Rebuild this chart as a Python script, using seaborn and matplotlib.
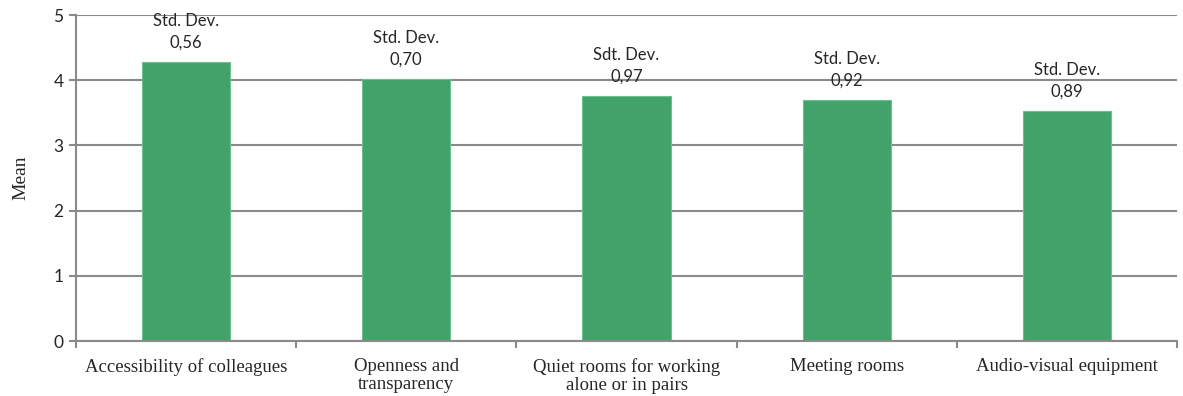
import matplotlib
matplotlib.use("Agg")
import matplotlib.pyplot as plt
import seaborn as sns
import pandas as pd
import numpy as np

categories = ["Accessibility of colleagues", "Openness and\ntransparency",
              "Quiet rooms for working\nalone or in pairs", "Meeting rooms",
              "Audio-visual equipment"]
means = [4.28, 4.02, 3.76, 3.70, 3.53]
sd_prefix = ["Std. Dev.", "Std. Dev.", "Sdt. Dev.", "Std. Dev.", "Std. Dev."]
sd_values = ["0,56", "0,70", "0,97", "0,92", "0,89"]
y_ticks = [0, 1, 2, 3, 4, 5]

sns.set_theme(style="white")
plt.rcParams['font.family'] = ['Lato', 'DejaVu Sans']

df = pd.DataFrame({"cat": categories, "mean": means})
fig = plt.figure(figsize=(11.83, 3.96), dpi=100)
ax = fig.add_axes([76/1183, 1-341/396, (1177-76)/1183, (341-15)/396])
sns.barplot(data=df, x="cat", y="mean", color="#41a36a", width=0.4,
            saturation=1, ax=ax, edgecolor="#6cc08f", linewidth=0.8)
ax.set_ylim(0, 5)
ax.set_xlim(-0.5, len(categories) - 0.5)
ax.set_yticks(y_ticks)
ax.set_yticklabels([str(t) for t in y_ticks], fontsize=12.5)
ax.yaxis.grid(True, color="#8a8a8a", linewidth=1.5)
ax.set_axisbelow(True)
for s in ["top", "right"]:
    ax.spines[s].set_visible(False)
for s in ["left", "bottom"]:
    ax.spines[s].set_color("#8a8a8a")
    ax.spines[s].set_linewidth(1.5)
ax.tick_params(axis="y", left=True, length=5, color="#8a8a8a", width=1.5, pad=4)
ax.set_xticks(range(len(categories)))
ax.set_xticklabels(categories, fontsize=13.5, family=["Liberation Serif", "DejaVu Serif"],
                   linespacing=1.1)
ax.set_xticks(np.arange(-0.5, len(categories), 1), minor=True)
ax.tick_params(axis="x", which="major", length=0, pad=12)
ax.tick_params(axis="x", which="minor", bottom=True, length=5, color="#8a8a8a", width=1.5)
ax.set_xlabel("")
ax.set_ylabel("Mean", fontsize=14, family=["Liberation Serif", "DejaVu Serif"], labelpad=17)

for i, (m, p, v) in enumerate(zip(means, sd_prefix, sd_values)):
    ax.annotate(f"{p}\n{v}", xy=(i, m), xytext=(0, 8), textcoords="offset points",
                ha="center", va="bottom", fontsize=12, linespacing=1.45)

fig.savefig("out.png", dpi=100)
